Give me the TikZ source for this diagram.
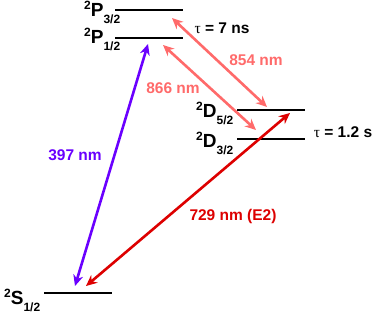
\documentclass[tikz,border=0pt]{standalone}
\usepackage{fontspec}
\setmainfont{Liberation Sans}
\newfontfamily\taufont{Liberation Serif}
\usetikzlibrary{arrows.meta}
\definecolor{violetc}{HTML}{6A00FF}
\definecolor{salmonc}{HTML}{FF6A6A}
\definecolor{redc}{HTML}{DD0000}
\newcommand{\lvlname}[2]{\raisebox{7pt}{\fontsize{12}{12}\selectfont 2}\fontsize{19}{19}\selectfont #1\raisebox{-7pt}{\fontsize{12}{12}\selectfont #2}}
\begin{document}
\begin{tikzpicture}[x=1pt,y=-1pt,
  level/.style={line width=1.6pt,black},
  lvllab/.style={anchor=base west,inner sep=0pt,font=\bfseries},
  lab/.style={inner sep=0pt,font=\bfseries\fontsize{15.5}{15.5}\selectfont},
  trans/.style={line width=2.6pt,{Stealth[length=11pt,width=10pt]}-{Stealth[length=11pt,width=10pt]}}]
\useasboundingbox (0,0) rectangle (382,315);
% levels
\draw[level] (115,10) coordinate (p3l) -- (183,10) coordinate (p3r);
\draw[level] (115,38) coordinate (p1l) -- (183,38) coordinate (p1r);
\draw[level] (237,110) coordinate (d5l) -- (305,110) coordinate (d5r);
\draw[level] (237,139) coordinate (d3l) -- (305,139) coordinate (d3r);
\draw[level] (44,293) coordinate (sl) -- (112,293) coordinate (sr);
% level labels
\node[lvllab] (lp3) at (84,17) {\lvlname{P}{3/2}};
\node[lvllab] (lp1) at (84,44) {\lvlname{P}{1/2}};
\node[lvllab] (ld5) at (196,118) {\lvlname{D}{5/2}};
\node[lvllab] (ld3) at (196,147) {\lvlname{D}{3/2}};
\node[lvllab] (ls) at (4,304) {\lvlname{S}{1/2}};
% arrow end points
\coordinate (a397s) at (75,286);
\coordinate (a397p) at (148,44);
\coordinate (a866p) at (163,45);
\coordinate (a866d) at (256,130);
\coordinate (a854p) at (172,18);
\coordinate (a854d) at (267,107);
\coordinate (a729s) at (86,286);
\coordinate (a729d) at (290,113);
% transitions
\draw[trans,violetc] (a397s) -- (a397p);
\draw[trans,salmonc] (a866p) -- (a866d);
\draw[trans,salmonc] (a854p) -- (a854d);
\draw[trans,redc] (a729s) -- (a729d);
% labels
\node[lab] (t7) at (222,28) {{\taufont\mdseries τ} = 7 ns};
\node[lab,text=salmonc] (l854) at (256,60) {854 nm};
\node[lab,text=salmonc] (l866) at (173,88) {866 nm};
\node[lab] (t12) at (343,132) {{\taufont\mdseries τ} = 1.2 s};
\node[lab,text=violetc] (l397) at (75,155) {397 nm};
\node[lab,text=redc] (l729) at (233,216) {729 nm (E2)};
\end{tikzpicture}
\end{document}
